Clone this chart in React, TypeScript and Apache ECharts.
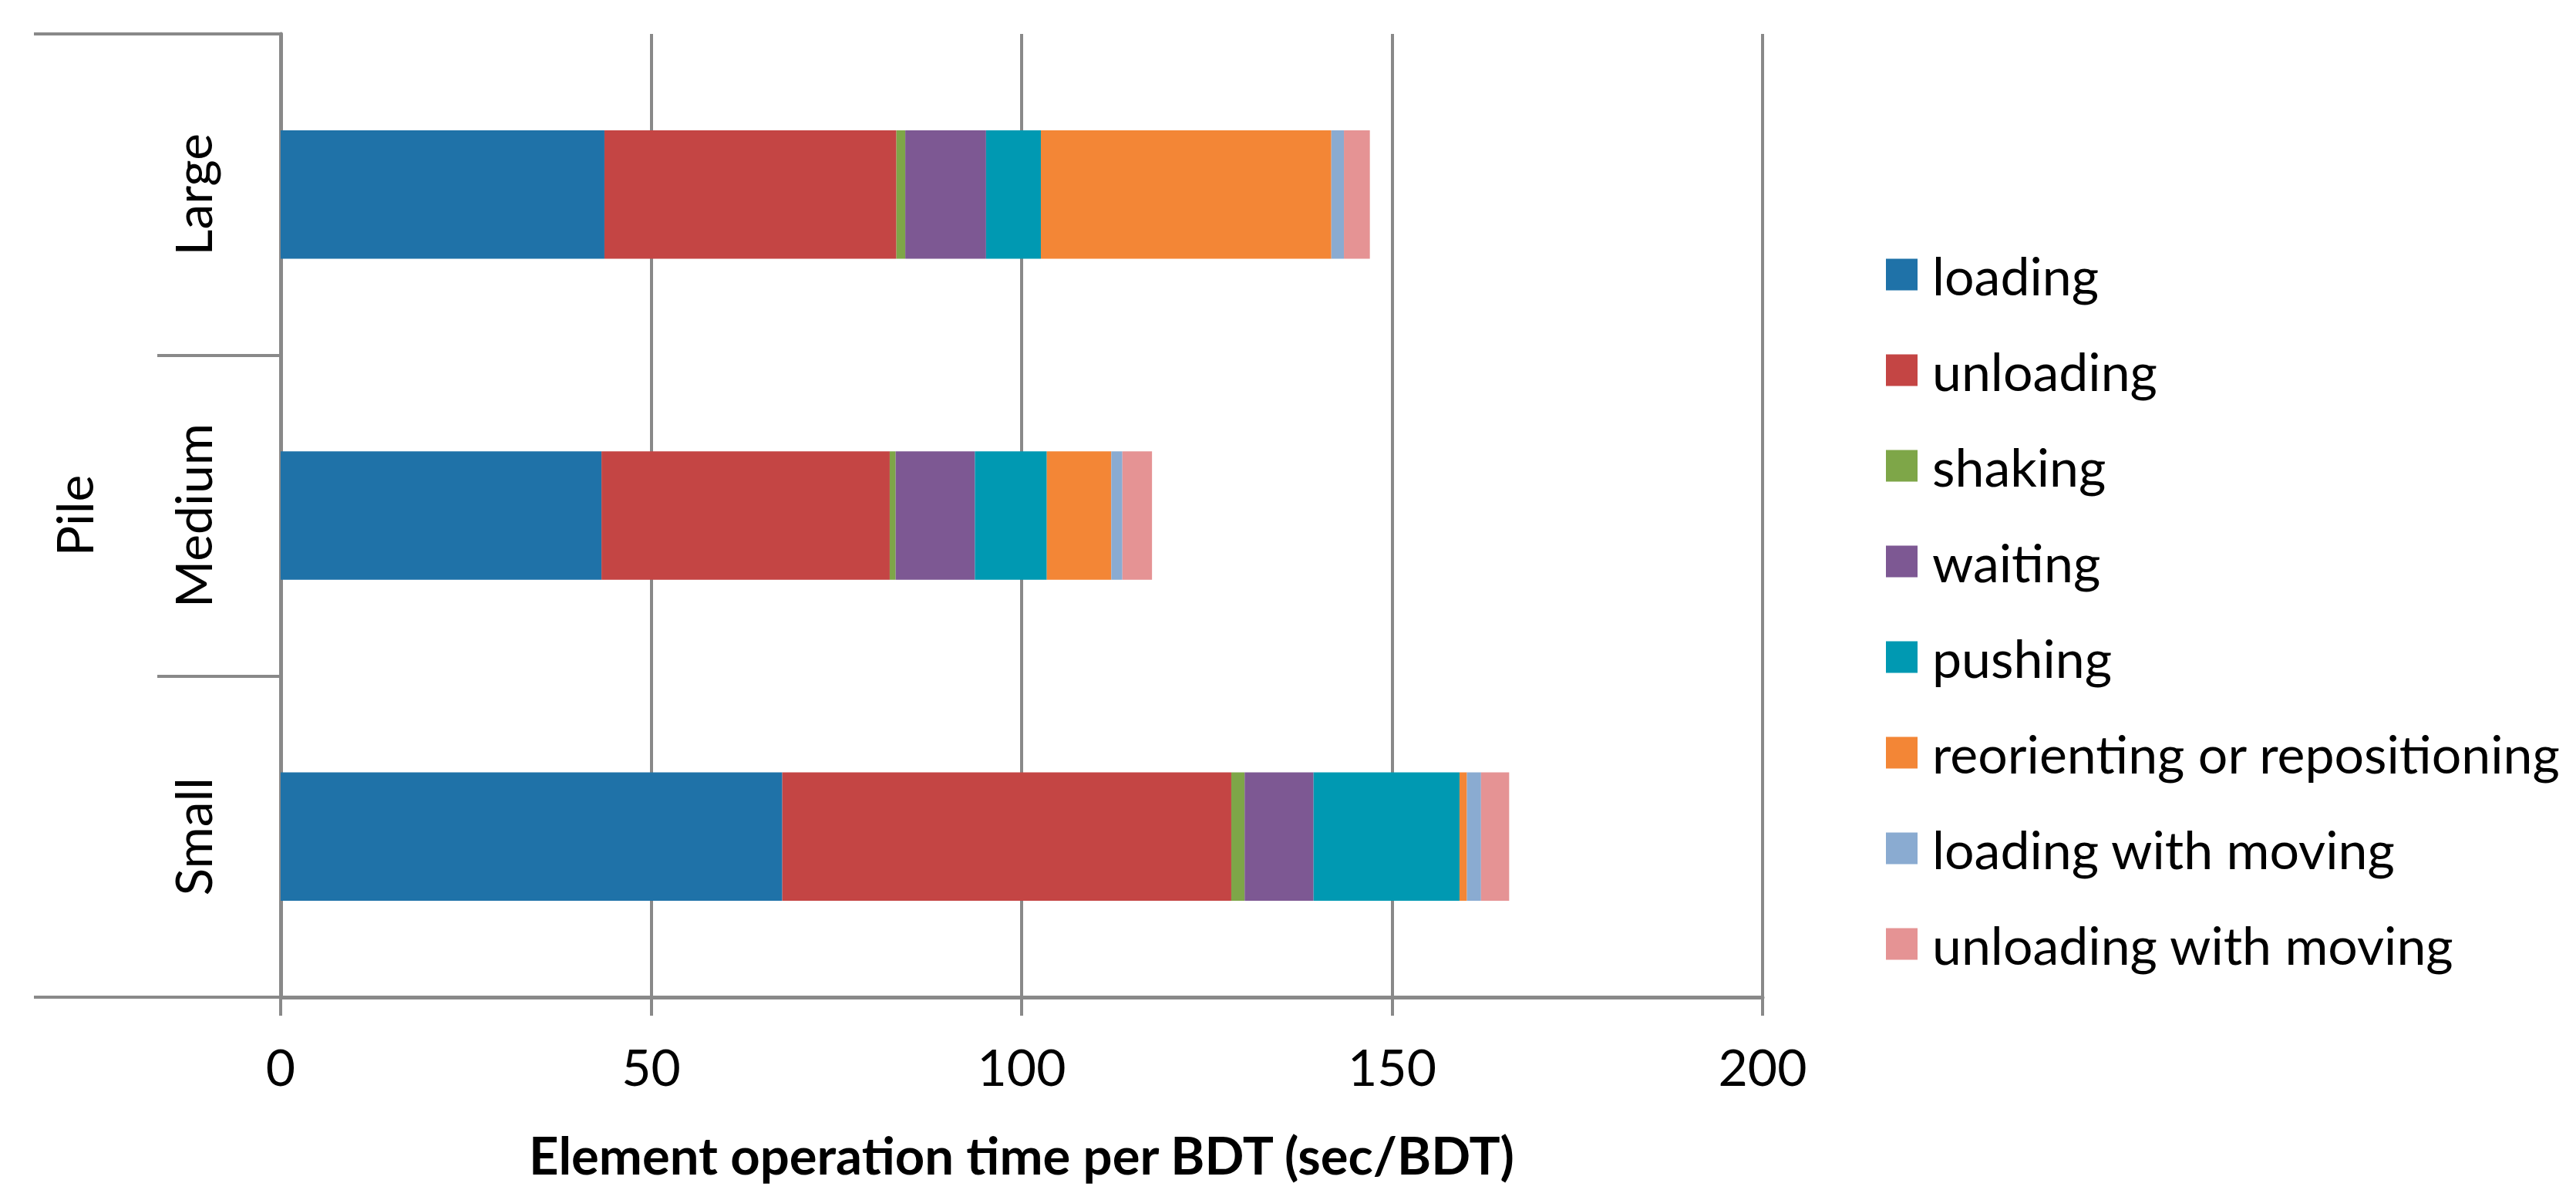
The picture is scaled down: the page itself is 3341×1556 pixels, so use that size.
import React, { useEffect, useRef } from "react";
import * as echarts from "echarts";

const categories = ["Small", "Medium", "Large"];
const groupLabel = ["Pile"];
const seriesNames = [
  "loading",
  "unloading",
  "shaking",
  "waiting",
  "pushing",
  "reorienting or repositioning",
  "loading with moving",
  "unloading with moving",
];
const loading = [67.7, 43.3, 43.7];
const unloading = [60.6, 38.9, 39.4];
const shaking = [1.8, 0.8, 1.2];
const waiting = [9.3, 10.7, 10.9];
const pushing = [19.7, 9.7, 7.4];
const reorienting = [1.0, 8.7, 39.2];
const loadingWithMoving = [1.9, 1.5, 1.7];
const unloadingWithMoving = [3.8, 4.0, 3.5];
const seriesValues = [
  loading,
  unloading,
  shaking,
  waiting,
  pushing,
  reorienting,
  loadingWithMoving,
  unloadingWithMoving,
];
const colors = [
  "#1F72A8",
  "#C44544",
  "#7EA648",
  "#7D5893",
  "#0099B2",
  "#F38636",
  "#8AABD1",
  "#E59394",
];
const xTicks = { min: 0, max: 200, interval: 50 };
const xTitle = "Element operation time per BDT (sec/BDT)";

const FONT = "Lato, 'Noto Sans', sans-serif";
const AXIS = "#898989";

export default function App() {
  const ref = useRef<HTMLDivElement>(null);
  useEffect(() => {
    if (!ref.current) return;
    const chart = echarts.init(ref.current, null, { renderer: "svg" });
    chart.setOption({
      animation: false,
      backgroundColor: "#ffffff",
      textStyle: { fontFamily: FONT, color: "#000" },
      grid: { left: 364, right: 1055, top: 44, bottom: 263, containLabel: false },
      legend: {
        orient: "vertical",
        left: 2446,
        top: 322,
        padding: 0,
        icon: "rect",
        itemWidth: 41,
        itemHeight: 41,
        itemGap: 56,
        data: seriesNames,
        textStyle: {
          fontFamily: FONT,
          fontSize: 68,
          color: "#000",
          lineHeight: 41,
          padding: [0, 0, 0, 14],
        },
      },
      xAxis: {
        type: "value",
        min: xTicks.min,
        max: xTicks.max,
        interval: xTicks.interval,
        axisLine: { show: true, lineStyle: { color: AXIS, width: 5 } },
        axisTick: { show: true, length: 24, inside: false, lineStyle: { color: AXIS, width: 4 } },
        splitLine: { show: true, lineStyle: { color: AXIS, width: 4 } },
        axisLabel: { fontFamily: FONT, fontSize: 66, color: "#000", margin: 56 },
        name: xTitle,
        nameLocation: "middle",
        nameGap: 170,
        nameTextStyle: { fontFamily: FONT, fontSize: 67, fontWeight: "bold", color: "#000" },
      },
      yAxis: [
        {
          type: "category",
          data: categories,
          position: "left",
          axisLine: { show: true, lineStyle: { color: AXIS, width: 5 } },
          axisTick: {
            show: true,
            length: 160,
            inside: false,
            alignWithLabel: false,
            lineStyle: { color: AXIS, width: 4 },
          },
          axisLabel: {
            rotate: 90,
            margin: 82,
            fontFamily: FONT,
            fontSize: 66,
            color: "#000",
          },
          splitLine: { show: false },
        },
        {
          type: "category",
          data: groupLabel,
          position: "left",
          axisLine: { show: false },
          axisTick: {
            show: true,
            length: 320,
            inside: false,
            lineStyle: { color: AXIS, width: 4 },
          },
          axisLabel: {
            rotate: 90,
            margin: 236,
            fontFamily: FONT,
            fontSize: 66,
            color: "#000",
          },
          splitLine: { show: false },
        },
      ],
      series: seriesNames.map((name, i) => ({
        name,
        type: "bar",
        stack: "total",
        yAxisIndex: 0,
        barCategoryGap: "60%",
        itemStyle: { color: colors[i] },
        data: seriesValues[i],
      })),
    });
    return () => chart.dispose();
  }, []);
  return (
    <div
      ref={ref}
      style={{ position: "absolute", left: 0, top: 0, width: 3341, height: 1556 }}
    />
  );
}
